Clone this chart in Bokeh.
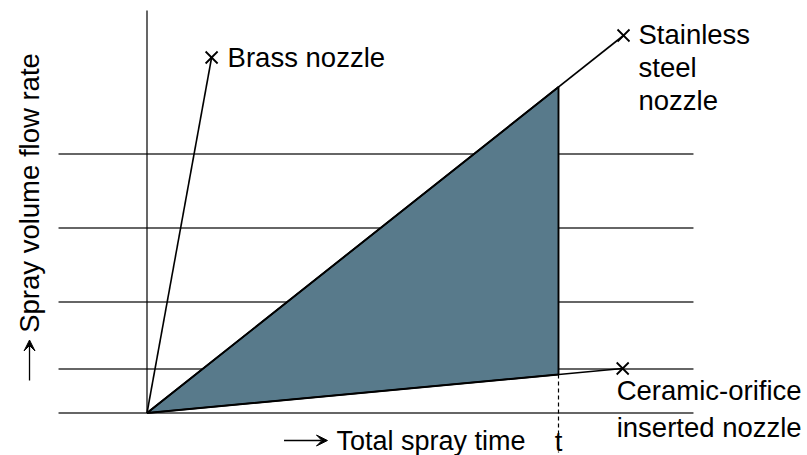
from bokeh.plotting import figure
from bokeh.models import Range1d, Arrow, VeeHead
from bokeh.core.properties import value
from bokeh.embed import file_html
from bokeh.resources import INLINE
import math

# ---- data ----
nozzles = ["Brass nozzle", "Stainless steel nozzle", "Ceramic-orifice inserted nozzle"]
end_time = [0.157, 1.158, 1.156]          # total spray time at line end (x marker)
end_volume = [3.555, 3.775, 0.445]        # spray volume flow rate at line end
t_mark = 1.0                              # the marked time t
grid_levels = [0.0, 0.44, 1.11, 1.85, 2.59]
axis_top = 4.025
grid_x = [-0.215, 1.328]

FONT = value("Liberation Sans")
FS = "27.5px"

# page pixel px -> x = (px - 146.5) / 411.5 ; py -> y = (412.5 - py) / 100
p = figure(width=807, height=455, output_backend="svg", toolbar_location=None,
           x_range=Range1d(-146.5 / 411.5, (807 - 146.5) / 411.5),
           y_range=Range1d((412.5 - 455) / 100, 412.5 / 100),
           x_axis_type=None, y_axis_type=None, min_border=0,
           outline_line_color=None)
p.xgrid.visible = False
p.ygrid.visible = False

# horizontal lines (incl. bottom baseline)
p.multi_line(xs=[grid_x for _ in grid_levels], ys=[[g, g] for g in grid_levels],
             line_color="#333333", line_width=1.4)
# vertical axis
p.line([0, 0], [0, axis_top], line_color="black", line_width=1.2)

# shaded area between stainless and ceramic up to t
st_t = end_volume[1] * t_mark / end_time[1]
ce_t = end_volume[2] * t_mark / end_time[2]
p.patch([0, t_mark, t_mark], [0, st_t, ce_t], fill_color="#587a8b",
         line_color="black", line_width=1.9)

# nozzle lines
for tx, vy in zip(end_time, end_volume):
    p.line([0, tx], [0, vy], line_color="black", line_width=1.6)
p.scatter(end_time, end_volume, marker="x", size=17, line_color="black", line_width=1.8)

# dashed line at t
p.line([t_mark, t_mark], [ce_t, (412.5 - 452) / 100], line_color="black", line_width=1.2,
       line_dash="4 3")

# labels
p.text([end_time[0]], [end_volume[0]], text=["Brass nozzle"], x_offset=16,
       text_baseline="middle", text_font=FONT, text_font_size=FS, text_color="black")
p.text([end_time[1]] * 3, [end_volume[1]] * 3, text=["Stainless", "steel", "nozzle"],
       x_offset=15, y_offset=[-1, 32, 65], text_baseline="middle", text_font=FONT,
       text_font_size=FS, text_color="black")
p.text([end_time[2]] * 2, [end_volume[2]] * 2, text=["Ceramic-orifice", "inserted nozzle"],
       x_offset=-6, y_offset=[22, 59], text_baseline="middle", text_font=FONT,
       text_font_size=FS, text_color="black")

# x label
p.text([t_mark], [0], text=["t"], y_offset=28, text_align="center",
       text_baseline="middle", text_font=FONT, text_font_size=FS, text_color="black")
p.text([0.4605], [-0.275], text=["Total spray time"], text_baseline="middle",
       text_font=FONT, text_font_size="27px", text_color="black")
p.add_layout(Arrow(end=VeeHead(size=11, fill_color="black", line_color="black"),
                   x_start=0.333, y_start=-0.275, x_end=0.4386, y_end=-0.275,
                   line_color="black", line_width=1.3))

# y label
p.text([-0.2855], [2.2], text=["Spray volume flow rate"], angle=math.pi / 2,
       text_align="center", text_baseline="middle", text_font=FONT,
       text_font_size=FS, text_color="black")
p.add_layout(Arrow(end=VeeHead(size=11, fill_color="black", line_color="black"),
                   x_start=-0.2855, y_start=0.325, x_end=-0.2855, y_end=0.73,
                   line_color="black", line_width=1.3))

open("out.html", "w").write(file_html(p, INLINE))
